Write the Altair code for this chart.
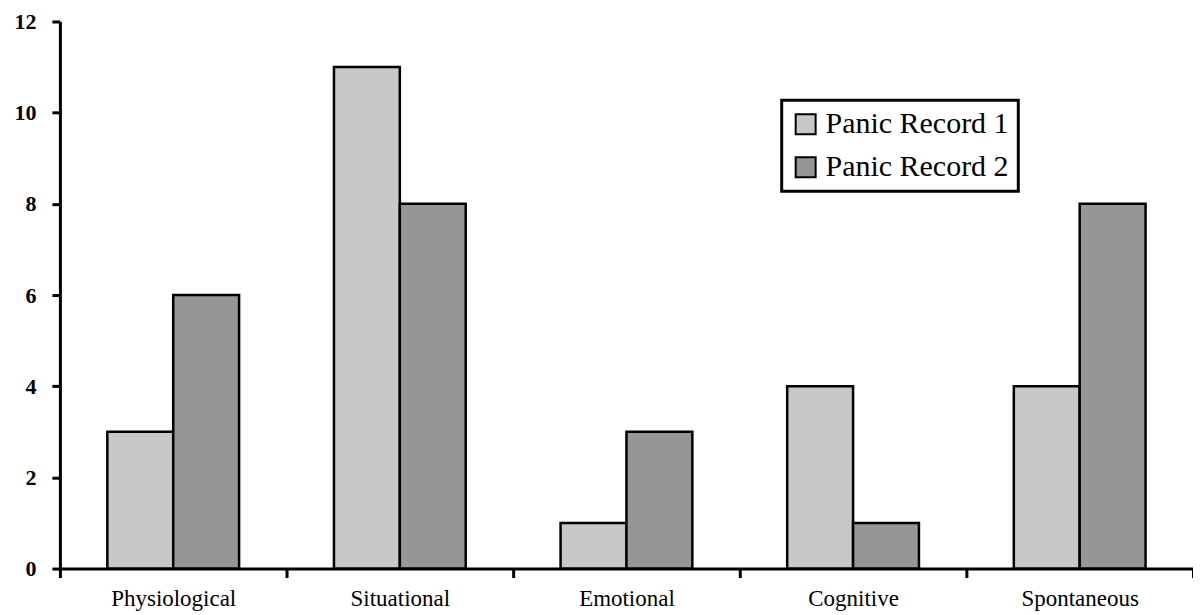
import altair as alt
import pandas as pd

categories = ["Physiological", "Situational", "Emotional", "Cognitive", "Spontaneous"]
record1 = [3, 11, 1, 4, 4]
record2 = [6, 8, 3, 1, 8]
series = ["Panic Record 1", "Panic Record 2"]
colors = ["#c8c8c8", "#969696"]

rows = []
for c, a, b in zip(categories, record1, record2):
    rows.append({"category": c, "series": series[0], "value": a})
    rows.append({"category": c, "series": series[1], "value": b})
df = pd.DataFrame(rows)

font = "Liberation Serif"

chart = alt.Chart(df).mark_bar(stroke="black", strokeWidth=2.5).encode(
    x=alt.X("category:N", sort=categories, title=None,
            scale=alt.Scale(paddingInner=0, paddingOuter=0),
            axis=alt.Axis(labelAngle=0, labelFont=font, labelFontSize=23, labelColor="black",
                          domainColor="black", domainWidth=3, tickColor="black", tickWidth=3,
                          tickSize=9, tickBand="extent", labelPadding=10, grid=False)),
    xOffset=alt.XOffset("series:N", scale=alt.Scale(paddingInner=0, paddingOuter=0.72)),
    y=alt.Y("value:Q", title=None,
            scale=alt.Scale(domain=[0, 12], nice=False),
            axis=alt.Axis(values=[0, 2, 4, 6, 8, 10, 12], labelFont=font, labelFontSize=22,
                          labelFontWeight="bold", labelColor="black", domainColor="black",
                          domainWidth=3, tickColor="black", tickWidth=3, tickSize=8,
                          labelPadding=16, grid=False)),
    fill=alt.Fill("series:N", scale=alt.Scale(domain=series, range=colors),
                  legend=alt.Legend(title=None, orient="none", legendX=723, legendY=79,
                                    labelFont=font, labelFontSize=30, labelColor="black",
                                    labelLimit=1000,
                                    symbolType="square", symbolSize=400,
                                    symbolStrokeColor="black", symbolStrokeWidth=2,
                                    strokeColor="black", padding=9, rowPadding=13,
                                    labelOffset=5, fillColor="white")),
).properties(
    width=1135, height=548,
    padding={"left": 52, "top": 13, "right": 0, "bottom": 44},
    autosize=alt.AutoSizeParams(type="none"),
).configure_view(stroke=None).configure_legend(strokeWidth=3)

chart.save("out.html", embed_options={"renderer": "svg", "actions": False})
